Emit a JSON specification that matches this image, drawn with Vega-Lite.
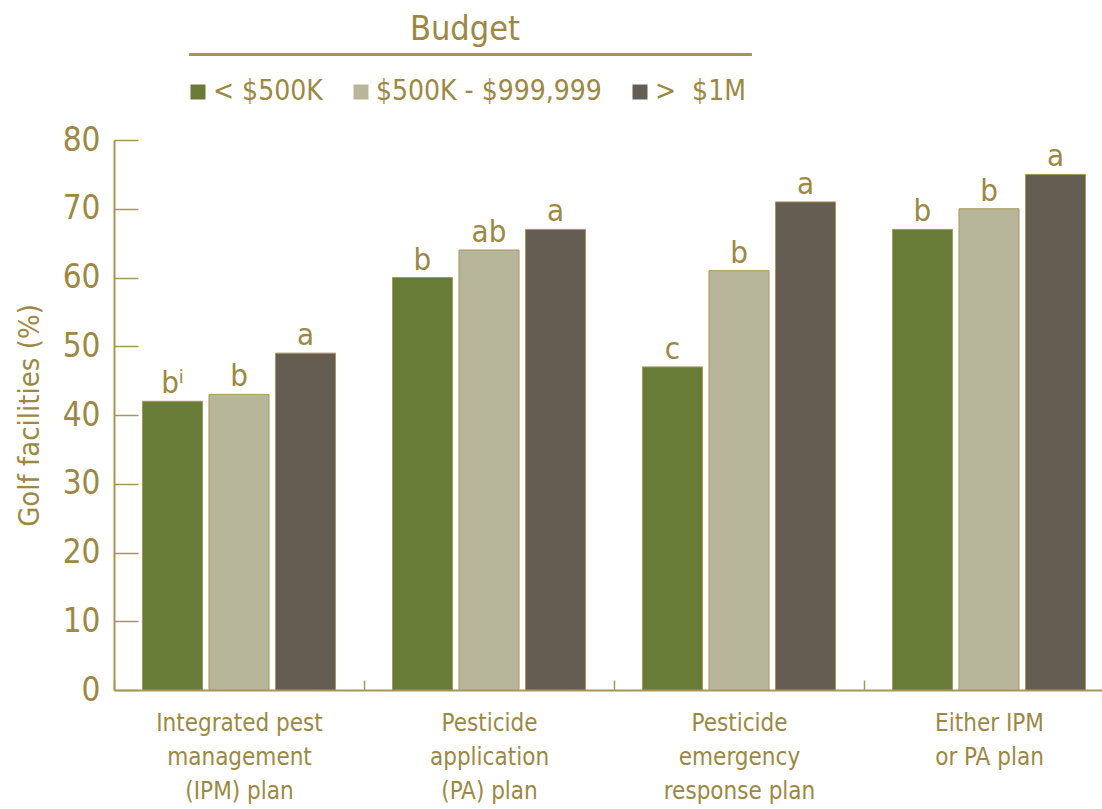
{
  "$schema": "https://vega.github.io/schema/vega-lite/v6.json",
  "width": 1000,
  "height": 550,
  "autosize": {"type": "none"},
  "padding": {"left": 114, "top": 140, "right": 0, "bottom": 119},
  "background": "white",
  "config": {
    "view": {"stroke": null},
    "font": "DejaVu Sans Condensed, DejaVu Sans, sans-serif"
  },
  "data": {
    "values": [
      {"plan": "Integrated pest management (IPM) plan", "budget": "< $500K", "pct": 42, "sig": "bⁱ"},
      {"plan": "Integrated pest management (IPM) plan", "budget": "$500K - $999,999", "pct": 43, "sig": "b"},
      {"plan": "Integrated pest management (IPM) plan", "budget": ">  $1M", "pct": 49, "sig": "a"},
      {"plan": "Pesticide application (PA) plan", "budget": "< $500K", "pct": 60, "sig": "b"},
      {"plan": "Pesticide application (PA) plan", "budget": "$500K - $999,999", "pct": 64, "sig": "ab"},
      {"plan": "Pesticide application (PA) plan", "budget": ">  $1M", "pct": 67, "sig": "a"},
      {"plan": "Pesticide emergency response plan", "budget": "< $500K", "pct": 47, "sig": "c"},
      {"plan": "Pesticide emergency response plan", "budget": "$500K - $999,999", "pct": 61, "sig": "b"},
      {"plan": "Pesticide emergency response plan", "budget": ">  $1M", "pct": 71, "sig": "a"},
      {"plan": "Either IPM or PA plan", "budget": "< $500K", "pct": 67, "sig": "b"},
      {"plan": "Either IPM or PA plan", "budget": "$500K - $999,999", "pct": 70, "sig": "b"},
      {"plan": "Either IPM or PA plan", "budget": ">  $1M", "pct": 75, "sig": "a"}
    ]
  },
  "encoding": {
    "x": {
      "field": "plan",
      "type": "nominal",
      "sort": null,
      "scale": {"paddingInner": 0, "paddingOuter": 0},
      "axis": {
        "title": null,
        "domainColor": "#a89550",
        "domainWidth": 2,
        "tickColor": "#a89550",
        "tickWidth": 1.5,
        "tickSize": -10,
        "tickOffset": -125,
        "labelOffset": 125,
        "labelAngle": 0,
        "labelColor": "#9c8842",
        "labelFontSize": 24,
        "labelLineHeight": 34,
        "labelPadding": 31,
        "labelLimit": 300,
        "labelBaseline": "top",
        "labelExpr": "datum.value == 'Integrated pest management (IPM) plan' ? ['Integrated pest', 'management', '(IPM) plan'] : datum.value == 'Pesticide application (PA) plan' ? ['Pesticide', 'application', '(PA) plan'] : datum.value == 'Pesticide emergency response plan' ? ['Pesticide', 'emergency', 'response plan'] : ['Either IPM', 'or PA plan']"
      }
    },
    "xOffset": {
      "field": "budget",
      "type": "nominal",
      "sort": null,
      "scale": {"paddingInner": 0.0977, "paddingOuter": 0.428}
    },
    "y": {
      "field": "pct",
      "type": "quantitative",
      "scale": {"domain": [0, 80]},
      "axis": {
        "title": "Golf facilities (%)",
        "titleColor": "#9c8842",
        "titleFontSize": 29,
        "titleFontWeight": "normal",
        "titlePadding": 18,
        "values": [0, 10, 20, 30, 40, 50, 60, 70, 80],
        "grid": false,
        "domainColor": "#a89550",
        "domainWidth": 2,
        "tickColor": "#a89550",
        "tickWidth": 1.5,
        "tickSize": -24,
        "labelColor": "#9c8842",
        "labelFontSize": 33,
        "labelPadding": 38,
        "labelBaseline": "middle"
      }
    }
  },
  "layer": [
    {
      "mark": {"type": "bar", "stroke": "#a8975a", "strokeWidth": 1},
      "encoding": {
        "color": {
          "field": "budget",
          "type": "nominal",
          "sort": null,
          "scale": {"range": ["#687c38", "#b7b69a", "#655d51"]},
          "legend": {
            "title": "Budget",
            "orient": "none",
            "legendX": 70,
            "legendY": -127,
            "direction": "horizontal",
            "titleAnchor": "middle",
            "titleColor": "#9c8842",
            "titleFontSize": 34,
            "titleFontWeight": "normal",
            "titlePadding": 31,
            "labelColor": "#9c8842",
            "labelFontSize": 28,
            "labelLimit": 400,
            "symbolType": "square",
            "symbolSize": 225,
            "symbolStrokeWidth": 0,
            "columnPadding": 24,
            "labelOffset": 1,
            "labelExpr": "replace(datum.label, '>  ', '>\u00a0\u00a0')"
          }
        }
      }
    },
    {
      "mark": {"type": "text", "baseline": "alphabetic", "dy": -8, "fontSize": 31, "color": "#9c8842"},
      "encoding": {"text": {"field": "sig"}}
    },
    {
      "mark": {"type": "rule", "color": "#a89550", "strokeWidth": 2, "xOffset": -49.5, "x2Offset": 12.5},
      "encoding": {
        "x": {"datum": "Integrated pest management (IPM) plan"},
        "x2": {"datum": "Pesticide emergency response plan"},
        "y": {"datum": 92.4},
        "xOffset": null
      }
    }
  ]
}
